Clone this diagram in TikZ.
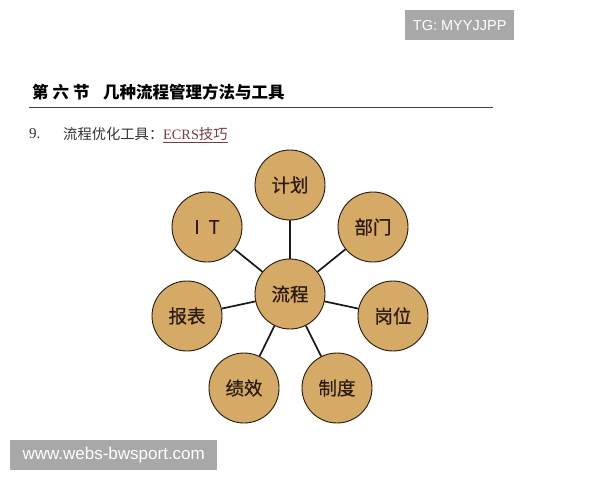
\documentclass[tikz,border=0pt]{standalone}
\usepackage{fontspec}
\setmainfont{Liberation Serif}
\newfontfamily\cjk{Noto Sans CJK SC}
\newfontfamily\cjkm{Noto Sans CJK SC}[FakeBold=0.6]
\newfontfamily\lsans{Liberation Sans}
\usetikzlibrary{positioning}
\definecolor{tan}{HTML}{D5A966}
\definecolor{circtext}{HTML}{2B1A12}
\definecolor{wmgray}{HTML}{A8A8A8}
\definecolor{linkred}{HTML}{7A3E3E}
\tikzset{
  bubble/.style={circle, draw=black!80!brown, line width=0.9pt, fill=tan, minimum size=70pt, inner sep=0pt,
    font=\cjkm\fontsize{18.5}{18.5}\selectfont, text=circtext},
  spoke/.style={draw=black!90, line width=1.7pt},
  wmbox/.style={fill=wmgray, text=white, inner sep=0pt, anchor=north west},
  headtext/.style={anchor=west, inner sep=0pt, font=\cjk\bfseries\fontsize{16.5}{16.5}\selectfont},
}
\begin{document}
\begin{tikzpicture}[x=1pt,y=-1pt]
\useasboundingbox[fill=white] (0,0) rectangle (600,480);
% watermark boxes
\node[wmbox, minimum width=109pt, minimum height=30pt] (tg) at (405,10) {\lsans\fontsize{14.5}{14.5}\selectfont TG: MYYJJPP};
\node[wmbox, minimum width=207pt, minimum height=30pt] (web) at (10,440) {\lsans\fontsize{17}{17}\selectfont www.webs-bwsport.com};
% heading
\node[headtext] (h1) at (32,92) {第\hspace{4pt}六\hspace{4pt}节};
\node[headtext] (h2) at (103,92) {几种流程管理方法与工具};
\coordinate (rl) at (29,107);
\coordinate (rr) at (493,107);
\draw[line width=1pt, black!75] (rl) -- (rr);
% subheading
\node[anchor=west, inner sep=0pt, font=\fontsize{15}{15}\selectfont, text=black!80] (n9) at (29,134) {9.};
\node[anchor=west, inner sep=0pt, font=\cjk\fontsize{14.3}{14.3}\selectfont, text=black!80] (s1) at (63,134) {流程优化工具：};
\node[anchor=west, inner sep=0pt, font=\fontsize{14.3}{14.3}\selectfont, text=linkred] (s2) at (163,134) {ECRS{\cjk 技巧}};
\draw[linkred, line width=0.6pt] ([yshift=-2pt]s2.south west) -- ([yshift=-2pt]s2.south east);
% nodes
\node[bubble] (c) at (290,294) {流程};
\node[bubble] (jh) at (290,185) {计划};
\node[bubble] (bm) at (373,227) {部门};
\node[bubble] (gw) at (393,316) {岗位};
\node[bubble] (zd) at (337,388) {制度};
\node[bubble] (jx) at (244,388) {绩效};
\node[bubble] (bb) at (187,316) {报表};
\node[bubble] (it) at (207,227) {I\hspace{9pt}T};
% spokes
\foreach \n in {jh,bm,gw,zd,jx,bb,it}{
  \draw[spoke] (c) -- (\n);
}
\end{tikzpicture}
\end{document}
